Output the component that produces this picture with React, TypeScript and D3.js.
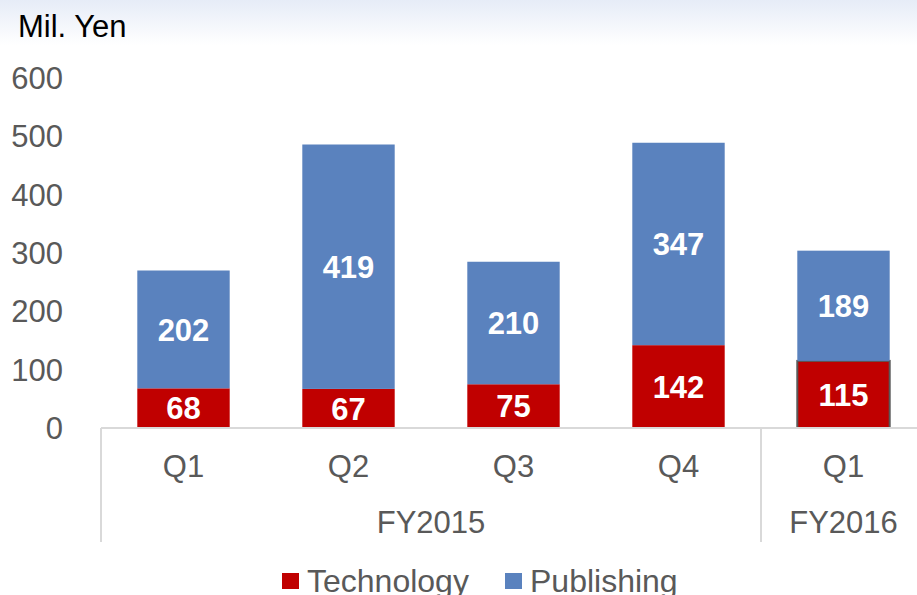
import React from "react";
import * as d3 from "d3";

const quarters = ["Q1", "Q2", "Q3", "Q4", "Q1"];
const fiscalYears = [
  { label: "FY2015", from: 0, to: 3 },
  { label: "FY2016", from: 4, to: 4 },
];
const technology = [68, 67, 75, 142, 115];
const publishing = [202, 419, 210, 347, 189];
const yTicks = [0, 100, 200, 300, 400, 500, 600];
const seriesNames = ["Technology", "Publishing"];
const colors = ["#C00000", "#5A82BE"];

const W = 917;
const H = 595;
const FONT = "'Liberation Sans', Arial, sans-serif";

export default function App() {
  const x = d3
    .scaleBand<number>()
    .domain(quarters.map((_, i) => i))
    .range([101, 926])
    .paddingInner(0.44)
    .paddingOuter(0.22);
  const y = d3.scaleLinear().domain([0, 600]).range([428, 78]);
  const step = x.step();
  const bandStart = (i: number) => 101 + i * step;

  const stack = d3
    .stack<number>()
    .keys(["0", "1"])
    .value((i, k) => (k === "0" ? technology[i] : publishing[i]));
  const series = stack(quarters.map((_, i) => i));

  return (
    <svg
      width={W}
      height={H}
      style={{ position: "absolute", left: 0, top: 0, display: "block" }}
      fontFamily={FONT}
    >
      <defs>
        <linearGradient id="bg" x1="0" y1="0" x2="0" y2="1">
          <stop offset="0" stopColor="#E6ECF7" />
          <stop offset="1" stopColor="#FFFFFF" />
        </linearGradient>
      </defs>
      <rect x={0} y={0} width={W} height={H} fill="#fff" />
      <rect x={0} y={0} width={W} height={45} fill="url(#bg)" />
      <text x={18} y={37} fontSize={31} fill="#000">
        Mil. Yen
      </text>

      {yTicks.map((t) => (
        <text
          key={t}
          x={63}
          y={y(t)}
          dy="0.36em"
          textAnchor="end"
          fontSize={31}
          fill="#595959"
        >
          {t}
        </text>
      ))}

      {series.map((s, si) =>
        s.map((d, i) => {
          const y0 = y(d[0]);
          const y1 = y(d[1]);
          const bx = x(i)!;
          const outlined = si === 0 && i === 4;
          return (
            <g key={`${si}-${i}`}>
              <rect
                x={bx}
                y={y1}
                width={x.bandwidth()}
                height={y0 - y1}
                fill={colors[si]}
                stroke={outlined ? "#595959" : "none"}
                strokeWidth={outlined ? 2 : 0}
              />
              <text
                x={bx + x.bandwidth() / 2}
                y={(y0 + y1) / 2}
                dy="0.36em"
                textAnchor="middle"
                fontSize={31}
                fontWeight="bold"
                fill="#fff"
              >
                {si === 0 ? technology[i] : publishing[i]}
              </text>
            </g>
          );
        })
      )}

      <line x1={101} x2={W} y1={428} y2={428} stroke="#D9D9D9" strokeWidth={2} />
      <line x1={101} x2={101} y1={428} y2={542} stroke="#D9D9D9" strokeWidth={2} />
      <line
        x1={bandStart(4)}
        x2={bandStart(4)}
        y1={428}
        y2={542}
        stroke="#D9D9D9"
        strokeWidth={2}
      />

      {quarters.map((q, i) => (
        <text
          key={i}
          x={x(i)! + x.bandwidth() / 2}
          y={466}
          dy="0.36em"
          textAnchor="middle"
          fontSize={31}
          fill="#595959"
        >
          {q}
        </text>
      ))}
      {fiscalYears.map((f) => (
        <text
          key={f.label}
          x={(bandStart(f.from) + bandStart(f.to + 1)) / 2}
          y={522}
          dy="0.36em"
          textAnchor="middle"
          fontSize={31}
          fill="#595959"
        >
          {f.label}
        </text>
      ))}

      {seriesNames.map((n, i) => {
        const lx = i === 0 ? 282 : 505;
        return (
          <g key={n}>
            <rect x={lx} y={573} width={17} height={16} fill={colors[i]} />
            <text x={lx + 25} y={592} fontSize={32} fill="#595959">
              {n}
            </text>
          </g>
        );
      })}
    </svg>
  );
}
